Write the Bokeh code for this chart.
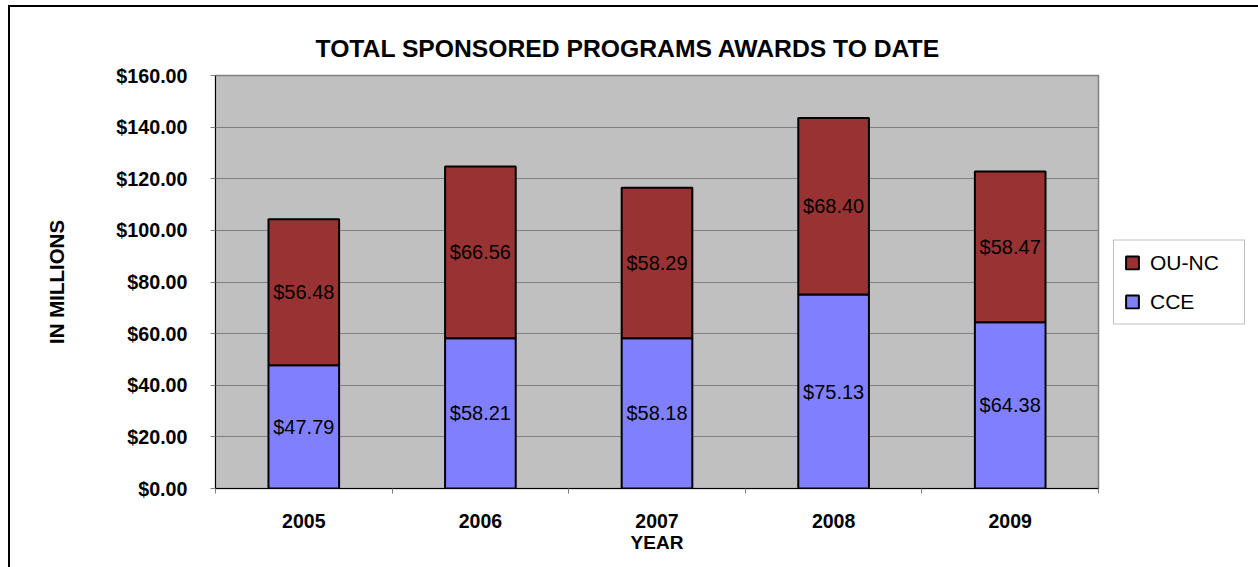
from bokeh.plotting import figure
from bokeh.models import (ColumnDataSource, Range1d, FixedTicker, NumeralTickFormatter,
                          Legend, LegendItem, Title)
from bokeh.core.properties import value
from bokeh.embed import file_html
from bokeh.resources import INLINE

# ---- data ----
years = ["2005", "2006", "2007", "2008", "2009"]
cce = [47.79, 58.21, 58.18, 75.13, 64.38]
ounc = [56.48, 66.56, 58.29, 68.40, 58.47]
y_ticks = [0, 20, 40, 60, 80, 100, 120, 140, 160]

FONT = "Liberation Sans"

xs = [i + 0.5 for i in range(len(years))]
tops = [c + o for c, o in zip(cce, ounc)]
src = ColumnDataSource(dict(
    x=xs, cce=cce, ounc=ounc, top=tops,
    cce_mid=[c / 2 for c in cce],
    ounc_mid=[c + o / 2 for c, o in zip(cce, ounc)],
    cce_lab=["${:.2f}".format(v) for v in cce],
    ounc_lab=["${:.2f}".format(v) for v in ounc],
))

p = figure(frame_width=883, frame_height=413,
           x_range=Range1d(0, len(years)), y_range=Range1d(0, 160),
           output_backend="svg", toolbar_location=None,
           min_border_left=205, min_border_right=160,
           min_border_top=68, min_border_bottom=79,
           background_fill_color="#C0C0C0", border_fill_color="white",
           title=None)
p.margin = (5, 0, 0, 8)
p.styles = {"border-left": "2px solid black", "border-top": "2px solid black"}

p.title = Title(text="TOTAL SPONSORED PROGRAMS AWARDS TO DATE", align="left", offset=100,
                text_font=FONT, text_font_size="24.7px", text_font_style="bold",
                text_color="black", standoff=27)

p.outline_line_color = "#808080"
p.outline_line_width = 1.5

r_cce = p.vbar(x="x", width=0.4, bottom=0, top="cce", source=src,
               fill_color="#8080FF", line_color="black", line_width=2)
r_ounc = p.vbar(x="x", width=0.4, bottom="cce", top="top", source=src,
                fill_color="#993333", line_color="black", line_width=2)

for ycol, tcol in (("cce_mid", "cce_lab"), ("ounc_mid", "ounc_lab")):
    p.text(x="x", y=ycol, text=tcol, source=src, text_align="center",
           text_baseline="middle", text_font=value(FONT), text_font_size="20px",
           text_color="black")

# grid
p.xgrid.visible = False
p.ygrid.ticker = FixedTicker(ticks=y_ticks)
p.ygrid.grid_line_color = "#808080"
p.ygrid.grid_line_width = 1

# x axis
xa = p.xaxis[0]
xa.ticker = FixedTicker(ticks=xs, minor_ticks=list(range(len(years) + 1)))
xa.major_label_overrides = {x: y for x, y in zip(xs, years)}
xa.major_tick_in = 0
xa.major_tick_out = 0
xa.minor_tick_in = 0
xa.minor_tick_out = 5
xa.minor_tick_line_color = "#808080"
xa.axis_line_color = "black"
xa.major_label_text_font = FONT
xa.major_label_text_font_size = "19.5px"
xa.major_label_text_font_style = "bold"
xa.major_label_text_color = "black"
xa.major_label_standoff = 20
xa.axis_label = "YEAR"
xa.axis_label_text_font = FONT
xa.axis_label_text_font_size = "19px"
xa.axis_label_text_font_style = "bold"
xa.axis_label_text_color = "black"
xa.axis_label_standoff = 1

# y axis
ya = p.yaxis[0]
ya.ticker = FixedTicker(ticks=y_ticks)
ya.formatter = NumeralTickFormatter(format="$0.00")
ya.major_tick_in = 0
ya.major_tick_out = 5
ya.major_tick_line_color = "#808080"
ya.minor_tick_line_color = None
ya.axis_line_color = "black"
ya.major_label_text_font = FONT
ya.major_label_text_font_size = "19.7px"
ya.major_label_text_font_style = "bold"
ya.major_label_text_color = "black"
ya.major_label_standoff = 23
ya.axis_label = "IN MILLIONS"
ya.axis_label_text_font = FONT
ya.axis_label_text_font_size = "20.5px"
ya.axis_label_text_font_style = "bold"
ya.axis_label_text_color = "black"
ya.axis_label_standoff = 45

legend = Legend(items=[LegendItem(label="OU-NC", renderers=[r_ounc]),
                       LegendItem(label="CCE", renderers=[r_cce])],
                location="center_left", orientation="vertical",
                border_line_color="#808080", border_line_width=1,
                background_fill_color="white", background_fill_alpha=1,
                padding=10, spacing=15, margin=15,
                glyph_width=16, glyph_height=16, label_height=16,
                label_width=84, label_standoff=10,
                label_text_font=FONT, label_text_font_size="21px",
                label_text_color="black")
p.add_layout(legend, "right")

open("out.html", "w").write(file_html(p, INLINE))
